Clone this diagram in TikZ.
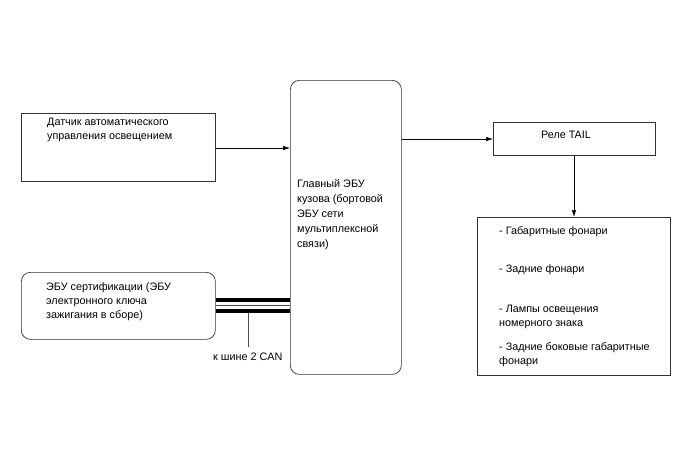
\documentclass[tikz,border=0pt]{standalone}
\usepackage{fontspec}
\setmainfont{Liberation Sans}
\usetikzlibrary{arrows.meta}
\begin{document}
\begin{tikzpicture}[x=1pt,y=-1pt,
  box/.style={draw=black!80,line width=0.7pt},
  rbox/.style={draw=black!80,line width=0.7pt,rounded corners=9pt},
  txt/.style={font=\fontsize{10.8}{14}\selectfont,align=left,anchor=north west,inner sep=0pt},
  arr/.style={draw=black,line width=0.6pt,-{Latex[length=7pt,width=4.5pt]}},
  ln/.style={draw=black,line width=0.6pt}]
\useasboundingbox[fill=white] (0,0) rectangle (688,463);
% boxes
\node[box,minimum width=194pt,minimum height=68pt,inner sep=0pt,anchor=north west] (sens) at (21,113) {};
\node[rbox,minimum width=111pt,minimum height=294pt,inner sep=0pt,anchor=north west] (main) at (290,80) {};
\node[box,minimum width=162pt,minimum height=33pt,inner sep=0pt,anchor=north west] (relay) at (493,122) {};
\node[box,minimum width=193pt,minimum height=158pt,inner sep=0pt,anchor=north west] (lamps) at (477,217) {};
\node[rbox,minimum width=194pt,minimum height=67pt,inner sep=0pt,anchor=north west] (cert) at (21,272) {};
% texts
\node[txt] (tsens) at (47,117.5) {Датчик автоматического\\управления освещением};
\node[txt,font=\fontsize{10.8}{15}\selectfont] (tmain) at (297,179.5) {Главный ЭБУ\\кузова (бортовой\\ЭБУ сети\\мультиплексной\\связи)};
\node[txt] (trelay) at (541,131) {Реле TAIL};
\node[txt] (tcert) at (46,282.5) {ЭБУ сертификации (ЭБУ\\электронного ключа\\зажигания в сборе)};
\node[txt] (l1) at (499,226.5) {- Габаритные фонари};
\node[txt] (l2) at (499,264.5) {- Задние фонари};
\node[txt] (l3) at (499,304.5) {- Лампы освещения\\номерного знака};
\node[txt] (l4) at (499,342.5) {- Задние боковые габаритные\\фонари};
% connectors
\draw[arr] (sens.east |- 0,148) -- (main.west |- 0,148);
\draw[arr] (main.east |- 0,139) -- (relay.west |- 0,139);
\draw[arr] (relay.south -| 574,0) -- (lamps.north -| 574,0);
% CAN bus
\draw[line width=4pt] (cert.east |- 0,299.5) -- (main.west |- 0,299.5);
\draw[line width=0.8pt,black!70] (cert.east |- 0,305.5) -- (main.west |- 0,305.5);
\draw[line width=4pt] (cert.east |- 0,311) -- (main.west |- 0,311);
\coordinate (cantap) at (248,313);
\node[txt] (canlbl) at (213,352.5) {к шине 2 CAN};
\draw[line width=0.8pt,black!70] (cantap) -- (248,347);
\end{tikzpicture}
\end{document}
